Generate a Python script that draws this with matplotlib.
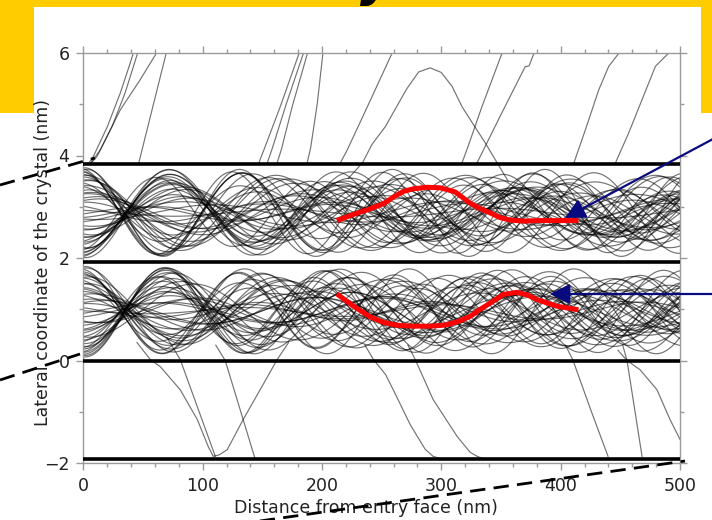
import numpy as np
import matplotlib
matplotlib.use("Agg")
import matplotlib.pyplot as plt
from matplotlib.patches import Rectangle, ArrowStyle, FancyArrowPatch
from matplotlib.lines import Line2D
from matplotlib.ticker import MultipleLocator

# ---------------- data ----------------
plane_y = [-1.92, 0.0, 1.92, 3.84]
upper_centre = 2.88
lower_centre = 0.96

# channeled trajectories: entry offset from channel centre (nm), oscillation wavelength (nm),
# entry tilt (nm) and amplitude factor reached at 500 nm
upper_offset = [0.88, -0.87, 0.84, -0.82, 0.80, -0.78, 0.75, -0.72, 0.70, -0.67, 0.64, -0.61,
                0.58, -0.55, 0.51, -0.48, 0.44, -0.41, 0.37, -0.33, 0.29, -0.25, 0.21, -0.17,
                0.13, -0.09, 0.05, -0.02, 0.86, -0.85, 0.81, -0.76, 0.73, -0.69, 0.62, -0.57,
                0.53, -0.46, 0.39, -0.31, 0.24, -0.12]
upper_wavelength = [132, 140, 128, 147, 136, 151, 143, 129, 155, 138, 160, 146,
                    134, 166, 150, 172, 141, 158, 178, 148, 185, 163, 153, 190,
                    170, 145, 181, 162, 137, 152, 126, 144, 159, 133, 168, 149,
                    175, 139, 187, 156, 165, 194]
upper_tilt = [0.05, -0.08, 0.12, 0.02, -0.10, 0.07, -0.04, 0.11, 0.00, -0.13, 0.09, 0.04,
              -0.06, 0.14, -0.09, 0.03, 0.10, -0.12, 0.06, -0.02, 0.13, -0.07, 0.01, 0.08,
              -0.11, 0.05, -0.03, 0.09, -0.14, 0.12, -0.05, 0.02, 0.07, -0.09, 0.11, -0.01,
              0.04, -0.10, 0.08, -0.06, 0.12, -0.04]
upper_growth = [0.55, 0.8, 1.0, 0.45, 0.9, 0.7, 1.05, 0.6, 0.95, 0.5, 1.1, 0.75,
                0.65, 1.2, 0.85, 1.3, 0.7, 1.4, 1.0, 1.5, 0.9, 1.6, 1.2, 2.0,
                1.1, 2.5, 1.8, 4.0, 0.6, 0.85, 0.95, 0.5, 1.0, 0.7, 1.15, 0.8,
                1.25, 0.9, 1.35, 1.05, 1.7, 2.2]

lower_offset = [-0.89, 0.87, -0.84, 0.82, -0.79, 0.77, -0.74, 0.71, -0.68, 0.66, -0.63, 0.60,
                -0.56, 0.53, -0.50, 0.46, -0.42, 0.39, -0.35, 0.31, -0.27, 0.23, -0.19, 0.15,
                -0.11, 0.07, -0.04, 0.01, -0.86, 0.84, -0.80, 0.74, -0.71, 0.65, -0.59, 0.55,
                -0.49, 0.44, -0.37, 0.33, -0.21, 0.17]
lower_wavelength = [135, 129, 144, 138, 150, 131, 157, 142, 127, 162, 148, 136,
                    169, 154, 176, 140, 160, 183, 146, 171, 152, 188, 165, 143,
                    179, 158, 193, 167, 133, 147, 139, 155, 130, 163, 145, 174,
                    137, 182, 151, 186, 161, 177]
lower_tilt = [-0.06, 0.09, 0.03, -0.11, 0.12, -0.04, 0.07, 0.01, -0.09, 0.13, -0.02, -0.12,
              0.05, 0.10, -0.07, 0.00, 0.11, -0.05, 0.08, -0.13, 0.04, 0.06, -0.10, 0.02,
              0.09, -0.08, 0.12, -0.03, -0.06, 0.10, 0.01, -0.11, 0.07, -0.04, 0.13, -0.09,
              0.05, -0.12, 0.03, 0.08, -0.07, 0.11]
lower_growth = [0.7, 0.5, 0.95, 1.0, 0.6, 0.85, 1.05, 0.55, 0.9, 0.75, 1.1, 0.65,
                1.2, 0.8, 1.3, 0.95, 1.45, 0.7, 1.6, 1.1, 1.8, 1.3, 2.1, 1.5,
                2.6, 1.9, 3.5, 6.0, 0.8, 0.6, 1.0, 0.9, 0.55, 1.05, 0.75, 1.2,
                0.85, 1.3, 1.0, 1.4, 1.6, 1.9]

# dechanneled trajectories leaving upward (x nm, y nm)
escape_up_x = [
    [4.2, 8.4, 20.1, 31.0, 39.4, 41.9],
    [6.0, 11.5, 24.0, 35.0, 43.0, 45.5],
    [5.9, 14.2, 31.0, 47.7, 60.3, 61.0],
    [46.1, 69.5],
    [146.8, 152.0, 165.0, 180.9],
    [153.9, 158.5, 170.0, 184.5],
    [162.2, 166.0, 175.0, 187.9],
    [187.4, 190.5, 196.0, 200.8],
    [215.0, 221.0, 238.0, 258.8],
    [222, 234, 242, 253, 262, 271, 281, 290.6, 300, 309, 317.4, 327, 336.7, 346.7, 356],
    [317.4, 322.0, 334.0, 350.9],
    [330.0, 350.0, 370.2, 373.6, 377.7],
    [411.0, 420.7, 431.9, 440.3, 448.9],
    [445.8, 457.0, 468.2, 479.4, 490.6],
]
escape_up_y = [
    [3.84, 3.98, 4.56, 5.22, 5.81, 6.0],
    [3.84, 3.98, 4.56, 5.22, 5.81, 6.0],
    [3.84, 4.11, 4.89, 5.48, 5.96, 6.0],
    [3.82, 6.0],
    [3.84, 4.15, 4.95, 6.0],
    [3.84, 4.15, 5.00, 6.0],
    [3.84, 4.12, 4.95, 6.0],
    [3.84, 4.15, 5.00, 6.0],
    [3.84, 4.10, 4.95, 6.0],
    [3.55, 3.86, 4.22, 4.56, 4.93, 5.30, 5.63, 5.71, 5.62, 5.35, 4.95, 4.60, 4.25, 3.86, 3.50],
    [3.86, 4.15, 4.95, 6.0],
    [3.86, 4.80, 5.73, 5.75, 6.0],
    [3.85, 4.50, 5.28, 5.74, 6.0],
    [3.85, 4.44, 5.09, 5.74, 6.0],
]

# dechanneled trajectories leaving downward
escape_down_x = [
    [45, 56.1, 64.5, 81.2, 95.5, 104.7, 108.9, 114, 120.6, 134.0, 148.2, 162.5, 172],
    [70, 81.2, 110.6],
    [111, 118.9, 144.1],
    [236, 243.1, 253.2, 261.6, 273.9, 286.4, 293.1, 300],
    [272, 278.1, 293.1, 313.2, 324.1, 330.0, 336],
    [404, 410.4, 425, 439.7],
    [452, 455.6, 468.2],
    [448, 455.6, 466.5, 480.7, 491.6, 500],
]
escape_down_y = [
    [0.35, 0.02, -0.12, -0.57, -1.15, -1.68, -1.87, -1.84, -1.74, -1.15, -0.57, 0.02, 0.35],
    [0.45, 0.02, -1.87],
    [0.30, 0.0, -1.93],
    [0.30, 0.02, -0.27, -0.66, -1.25, -1.73, -1.87, -1.92],
    [0.30, 0.02, -0.76, -1.48, -1.79, -1.87, -1.92],
    [0.30, 0.0, -0.95, -1.87],
    [0.30, 0.0, -1.87],
    [0.20, 0.0, -0.18, -0.57, -1.15, -1.54],
]

# highlighted trajectories
red_up_x = [212.5, 226.4, 240.4, 251.5, 259.9, 268.3, 276.6, 287.8, 299.0, 311.6, 324.1, 332,
            340.9, 349, 357.6, 369, 380.0, 397, 414.9]
red_up_y = [2.73, 2.85, 2.96, 3.06, 3.19, 3.30, 3.35, 3.38, 3.37, 3.29, 3.07, 2.97,
            2.88, 2.79, 2.74, 2.72, 2.73, 2.73, 2.73]
red_lo_x = [212.5, 226.4, 240.4, 252, 262, 275, 290, 303, 314, 324.1, 332, 340.9, 352,
            363.2, 372, 380, 396.7, 414.9]
red_lo_y = [1.30, 1.06, 0.85, 0.74, 0.69, 0.67, 0.67, 0.69, 0.76, 0.86, 0.99, 1.12, 1.29,
            1.33, 1.28, 1.19, 1.06, 0.99]

x_ticks = [0, 100, 200, 300, 400, 500]
y_ticks = [-2, 0, 2, 4, 6]

# ---------------- figure ----------------
W, H = 712, 520
fig = plt.figure(figsize=(W / 100, H / 100), dpi=100)
fig.patch.set_facecolor("white")

def fx(px):
    return px / W

def fy(py):
    return 1 - py / H

yellow = "#FFCC00"
fig.patches.append(Rectangle((0, fy(113)), 1, 113 / H, transform=fig.transFigure,
                             facecolor=yellow, edgecolor="none", zorder=-3))
fig.text(fx(360), fy(-4), "y", fontsize=36, fontweight="bold", style="italic",
         ha="left", va="baseline", color="black", zorder=-2)
fig.patches.append(Rectangle((fx(34), 0), fx(701) - fx(34), fy(7), transform=fig.transFigure,
                             facecolor="white", edgecolor="none", zorder=-1))

ax = fig.add_axes([fx(83.3), 57 / H, 596.7 / W, 410 / H])
ax.set_facecolor("none")

xs = np.linspace(0, 500, 1001)
traj_kw = dict(color="black", alpha=0.55, lw=0.85)
for c, offs, lams, tilts, grows in [
        (upper_centre, upper_offset, upper_wavelength, upper_tilt, upper_growth),
        (lower_centre, lower_offset, lower_wavelength, lower_tilt, lower_growth)]:
    for a, lam, b, g in zip(offs, lams, tilts, grows):
        k = 2 * np.pi / lam
        amp = np.hypot(a, b)
        env = np.minimum(1 + (g - 1) * xs / 500, 0.9 / max(amp, 1e-6))
        ax.plot(xs, c + env * (a * np.cos(k * xs) + b * np.sin(k * xs)), **traj_kw)

for xe, ye in zip(escape_up_x, escape_up_y):
    ax.plot(xe, ye, **traj_kw)
for xe, ye in zip(escape_down_x, escape_down_y):
    ax.plot(xe, ye, **traj_kw)

for yp in plane_y:
    ax.axhline(yp, color="black", lw=2.6, zorder=3)

ax.plot(red_up_x, red_up_y, color="#ff0000", lw=3.6, zorder=5, solid_capstyle="butt")
ax.plot(red_lo_x, red_lo_y, color="#ff0000", lw=3.6, zorder=5, solid_capstyle="butt")

ax.set_xlim(0, 500)
ax.set_ylim(-2, 6)
ax.set_xticks(x_ticks)
ax.set_yticks(y_ticks)
ax.xaxis.set_minor_locator(MultipleLocator(20))
ax.yaxis.set_minor_locator(MultipleLocator(1))
spine_c = "#9a9a9a"
for s in ax.spines.values():
    s.set_color(spine_c)
    s.set_linewidth(1.0)
ax.tick_params(which="both", direction="out", top=True, right=True, color=spine_c,
               labelcolor="#222222", labelsize=12.5, pad=5, width=1.0)
ax.tick_params(which="major", length=5)
ax.tick_params(which="minor", length=2.8)

ax.set_xlabel("Distance from entry face (nm)", fontsize=12.5, color="#222222")
ax.set_ylabel("Lateral coordinate of the crystal (nm)", fontsize=12.5, color="#222222")
ax.xaxis.set_label_coords(0.474, -0.088)
ax.yaxis.set_label_coords(-0.052, 0.49)

# blue arrows
navy = "#0a0a80"
astyle = ArrowStyle("-|>", head_length=0.55, head_width=0.28)
for tail, tip in [((713, 139), (565, 218)), ((713, 294), (550, 294))]:
    fig.add_artist(FancyArrowPatch(
        (fx(tail[0]), fy(tail[1])), (fx(tip[0]), fy(tip[1])), transform=fig.transFigure,
        arrowstyle=astyle, mutation_scale=22, color=navy, lw=1.6,
        shrinkA=0, shrinkB=0, zorder=10))

# dashed guide lines
for (x0, y0), (x1, y1) in [((0, 185), (95, 158)), ((0, 380), (80, 354)), ((196, 530), (685, 461))]:
    fig.add_artist(Line2D([fx(x0), fx(x1)], [fy(y0), fy(y1)], transform=fig.transFigure,
                          color="black", lw=2.0, linestyle=(0, (5.5, 3.0)), zorder=10))

fig.savefig("out.png", dpi=100)
